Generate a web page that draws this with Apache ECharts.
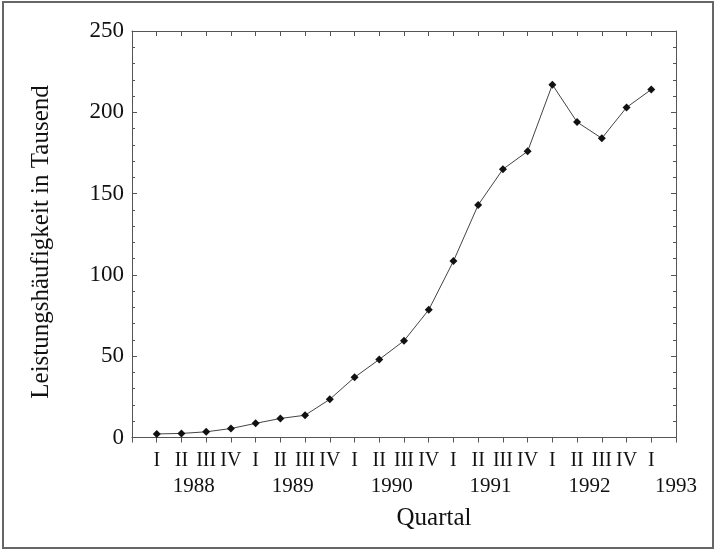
<!DOCTYPE html>
<html>
<head>
<meta charset="utf-8">
<title>Leistungshäufigkeit</title>
<script src="https://cdn.jsdelivr.net/npm/echarts@6/dist/echarts.min.js"></script>
<style>
    html, body { margin: 0; padding: 0; background: #fff; }
    #demo { width: 717px; height: 552px; }
</style>
</head>
<body>
<div id="demo"></div>
<script>
/**
 * Daten
 */
// Quartale (Beschriftung der x-Achse, Position 1..21)
var quarter_labels = ['I', 'II', 'III', 'IV', 'I', 'II', 'III', 'IV', 'I', 'II', 'III', 'IV',
    'I', 'II', 'III', 'IV', 'I', 'II', 'III', 'IV', 'I'];
// Leistungshäufigkeit in Tausend je Quartal
var quarter_values = [2.2, 2.5, 3.5, 5.5, 8.7, 11.7, 13.7, 23.5, 37, 48, 59.5, 78.5,
    108.5, 143, 165, 176, 217, 194, 184, 203, 214];
// Jahreszahlen unter den Quartalen
var year_labels = ['1988', '1989', '1990', '1991', '1992', '1993'];
var year_positions = [2.5, 6.5, 10.5, 14.5, 18.5, 22];
// y-Achse
var y_ticks = [0, 50, 100, 150, 200, 250];

var basedata = {
    dom_id: 'demo',        // Container
    echarts_line: null     // echarts Instanz
};

var init_application = function () {
    basedata.echarts_line = new QuartalChart(basedata.dom_id);
    basedata.echarts_line.render_echart();
    window.onresize = function () {
        basedata.echarts_line.myChart.resize();
    };
};

/******************************** Komponente ********************************/

function QuartalChart(dom_id) {
    this.dom_id = dom_id;
    this.myChart = null;
    this.option = {};
}
QuartalChart.prototype = {
    constructor: QuartalChart,
    build_option: function () {
        var font = '"Liberation Serif", "DejaVu Serif", serif';
        var axis_color = '#555';
        var points = quarter_values.map(function (v, i) { return [i + 1, v]; });

        this.option = {
            backgroundColor: '#fff',
            animation: false,
            grid: { left: 132, right: 41, top: 31, bottom: 114.5, containLabel: false },
            xAxis: [
                {   // Quartale unten
                    type: 'value', position: 'bottom', min: 0, max: 22, interval: 1,
                    axisLine: { show: true, onZero: false, lineStyle: { color: axis_color, width: 1 } },
                    axisTick: { show: true, inside: false, length: 5, lineStyle: { color: axis_color } },
                    splitLine: { show: false },
                    axisLabel: {
                        margin: 13, fontFamily: font, fontSize: 20, color: '#111',
                        showMinLabel: true, showMaxLabel: true,
                        formatter: function (v) {
                            var k = Math.round(v);
                            return quarter_labels[k - 1] || '';
                        }
                    }
                },
                {   // Rahmen oben
                    type: 'value', position: 'top', min: 0, max: 22, interval: 1,
                    axisLine: { show: true, onZero: false, lineStyle: { color: axis_color, width: 1 } },
                    axisTick: { show: true, inside: true, length: 5, lineStyle: { color: axis_color } },
                    axisLabel: { show: false },
                    splitLine: { show: false }
                },
                {   // Jahre
                    type: 'value', position: 'bottom', min: 0, max: 22, interval: 0.5,
                    axisLine: { show: false },
                    axisTick: { show: false },
                    splitLine: { show: false },
                    axisLabel: {
                        margin: 38, fontFamily: font, fontSize: 21, color: '#111',
                        showMinLabel: true, showMaxLabel: true, hideOverlap: false,
                        formatter: function (v) {
                            var idx = year_positions.indexOf(Math.round(v * 2) / 2);
                            return idx >= 0 ? year_labels[idx] : '';
                        }
                    }
                }
            ],
            yAxis: [
                {
                    type: 'value', position: 'left', min: y_ticks[0], max: y_ticks[y_ticks.length - 1], interval: 50,
                    axisLine: { show: true, onZero: false, lineStyle: { color: axis_color, width: 1 } },
                    axisTick: { show: true, inside: true, length: 5, lineStyle: { color: axis_color } },
                    minorTick: { show: true, splitNumber: 5, length: 3, lineStyle: { color: axis_color } },
                    splitLine: { show: false },
                    axisLabel: { margin: 8, fontFamily: font, fontSize: 23, color: '#111' }
                },
                {
                    type: 'value', position: 'right', min: y_ticks[0], max: y_ticks[y_ticks.length - 1], interval: 50,
                    axisLine: { show: true, onZero: false, lineStyle: { color: axis_color, width: 1 } },
                    axisTick: { show: true, inside: true, length: 5, lineStyle: { color: axis_color } },
                    minorTick: { show: true, splitNumber: 5, length: 3, lineStyle: { color: axis_color } },
                    splitLine: { show: false },
                    axisLabel: { show: false }
                }
            ],
            graphic: [
                {
                    type: 'rect', silent: true, z: -1,
                    shape: { x: 3, y: 2, width: 710, height: 546 },
                    style: { fill: 'none', stroke: '#666', lineWidth: 2 }
                },
                {
                    type: 'text', x: 41, y: 242, rotation: Math.PI / 2,
                    style: {
                        text: 'Leistungshäufigkeit in Tausend', fontFamily: font, fontSize: 25,
                        fill: '#111', textAlign: 'center', textVerticalAlign: 'middle'
                    }
                },
                {
                    type: 'text', x: 434, y: 518,
                    style: {
                        text: 'Quartal', fontFamily: font, fontSize: 25,
                        fill: '#111', textAlign: 'center', textVerticalAlign: 'middle'
                    }
                }
            ],
            series: [
                {
                    type: 'line', xAxisIndex: 0, yAxisIndex: 0,
                    data: points,
                    symbol: 'diamond', symbolSize: 8,
                    lineStyle: { color: '#444', width: 1 },
                    itemStyle: { color: '#111' }
                }
            ]
        };
    },
    render_echart: function () {
        this.build_option();
        this.myChart = echarts.init(document.getElementById(this.dom_id));
        this.myChart.setOption(this.option);
    }
};

init_application();
</script>
</body>
</html>
